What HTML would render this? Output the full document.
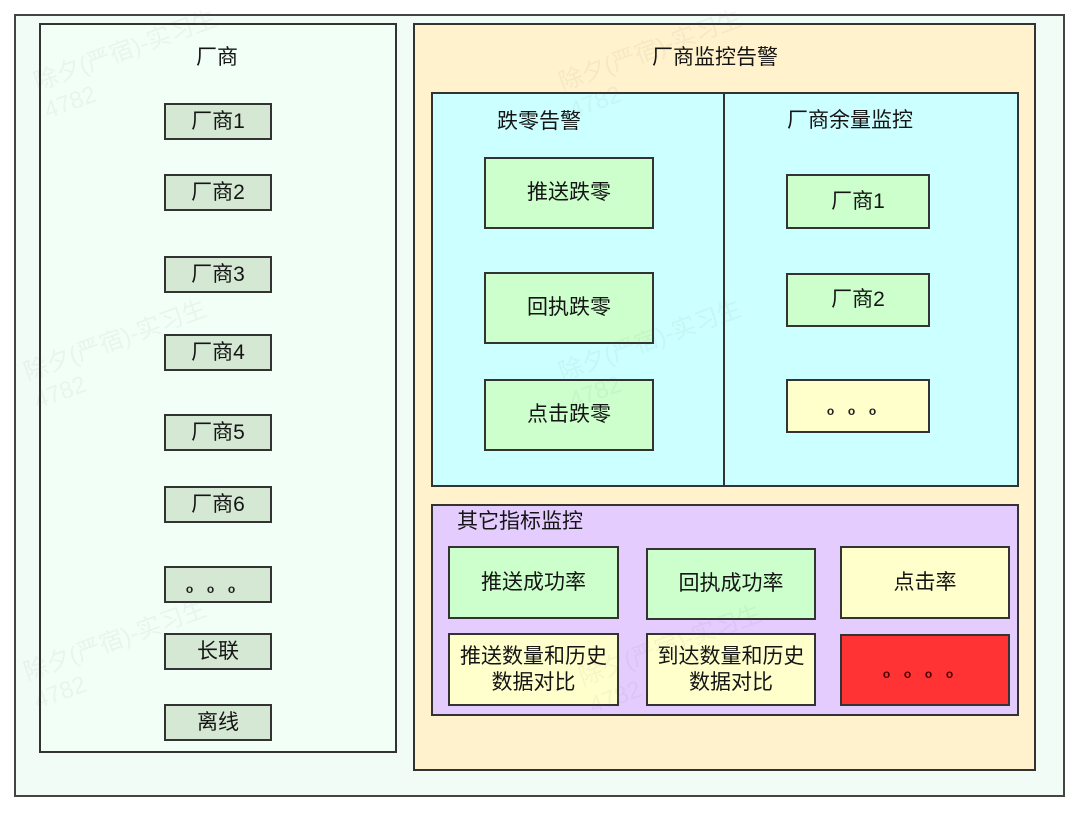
<!DOCTYPE html>
<html>
<head>
<meta charset="utf-8">
<style>
  html,body{margin:0;padding:0;}
  body{width:1080px;height:813px;background:#ffffff;position:relative;overflow:hidden;
    font-family:"Liberation Sans","Noto Sans CJK SC",sans-serif;color:#151515;}
  .a{position:absolute;box-sizing:border-box;}
  .b{position:absolute;box-sizing:border-box;border:2px solid #333;display:flex;align-items:center;justify-content:center;text-align:center;font-size:21px;line-height:26px;}
  .t{position:absolute;font-size:21px;line-height:26px;white-space:nowrap;}
  .lg{background:#d5e8d4;}
  .gr{background:#ccffcc;}
  .ye{background:#ffffcc;}
  .rd{background:#ff3333;}
  .wm{position:absolute;color:rgba(120,120,120,0.07);font-size:24px;line-height:30px;transform:rotate(-20deg);transform-origin:left top;white-space:nowrap;}
  .dots{position:absolute;height:12px;font-family:"Liberation Sans",sans-serif;font-size:12px;line-height:12px;font-weight:bold;white-space:nowrap;color:#222;}
  .dots span{display:inline-block;width:21px;text-align:center;}
</style>
</head>
<body>
  <!-- outer frame -->
  <div class="a" style="left:14px;top:14px;width:1051px;height:783px;border:2px solid #444;background:#f1fcf6;"></div>

  <!-- left panel -->
  <div class="a" style="left:39px;top:23px;width:358px;height:730px;border:2px solid #333;background:#f1fff6;"></div>
  <div class="t" style="left:196px;top:45px;">厂商</div>

  <div class="b lg" style="left:164px;top:103px;width:108px;height:37px;">厂商1</div>
  <div class="b lg" style="left:164px;top:174px;width:108px;height:37px;">厂商2</div>
  <div class="b lg" style="left:164px;top:256px;width:108px;height:37px;">厂商3</div>
  <div class="b lg" style="left:164px;top:334px;width:108px;height:37px;">厂商4</div>
  <div class="b lg" style="left:164px;top:414px;width:108px;height:37px;">厂商5</div>
  <div class="b lg" style="left:164px;top:486px;width:108px;height:37px;">厂商6</div>
  <div class="b lg" style="left:164px;top:566px;width:108px;height:37px;"></div>
  <div class="dots" style="left:179px;top:583px;"><span>o</span><span>o</span><span>o</span></div>
  <div class="b lg" style="left:164px;top:633px;width:108px;height:37px;">长联</div>
  <div class="b lg" style="left:164px;top:704px;width:108px;height:37px;">离线</div>

  <!-- right orange panel -->
  <div class="a" style="left:413px;top:23px;width:623px;height:748px;border:2px solid #333;background:#fff2cc;"></div>
  <div class="t" style="left:652px;top:45px;">厂商监控告警</div>

  <!-- cyan panel -->
  <div class="a" style="left:431px;top:92px;width:588px;height:395px;border:2px solid #333;background:#ccffff;"></div>
  <div class="a" style="left:723px;top:92px;width:2px;height:395px;background:#333;"></div>
  <div class="t" style="left:497px;top:109px;">跌零告警</div>
  <div class="t" style="left:787px;top:108px;">厂商余量监控</div>

  <div class="b gr" style="left:484px;top:157px;width:170px;height:72px;">推送跌零</div>
  <div class="b gr" style="left:484px;top:272px;width:170px;height:72px;">回执跌零</div>
  <div class="b gr" style="left:484px;top:379px;width:170px;height:72px;">点击跌零</div>

  <div class="b gr" style="left:786px;top:174px;width:144px;height:55px;">厂商1</div>
  <div class="b gr" style="left:786px;top:273px;width:144px;height:54px;">厂商2</div>
  <div class="b ye" style="left:786px;top:379px;width:144px;height:54px;"></div>
  <div class="dots" style="left:820px;top:405px;"><span>o</span><span>o</span><span>o</span></div>

  <!-- purple panel -->
  <div class="a" style="left:431px;top:504px;width:588px;height:212px;border:2px solid #333;background:#e5ccff;"></div>
  <div class="t" style="left:457px;top:509px;">其它指标监控</div>

  <div class="b gr" style="left:448px;top:546px;width:171px;height:73px;">推送成功率</div>
  <div class="b gr" style="left:646px;top:548px;width:170px;height:72px;">回执成功率</div>
  <div class="b ye" style="left:840px;top:546px;width:170px;height:73px;">点击率</div>

  <div class="b ye" style="left:448px;top:633px;width:171px;height:73px;">推送数量和历史<br>数据对比</div>
  <div class="b ye" style="left:646px;top:633px;width:170px;height:73px;">到达数量和历史<br>数据对比</div>
  <div class="b rd" style="left:840px;top:634px;width:170px;height:72px;"></div>
  <div class="dots" style="left:876px;top:668px;color:#4a0000;"><span>o</span><span>o</span><span>o</span><span>o</span></div>

  <!-- faint watermarks -->
  <div class="wm" style="left:30px;top:70px;">除夕(严宿)-实习生<br>4782</div>
  <div class="wm" style="left:20px;top:360px;">除夕(严宿)-实习生<br>4782</div>
  <div class="wm" style="left:20px;top:660px;">除夕(严宿)-实习生<br>4782</div>
  <div class="wm" style="left:555px;top:70px;">除夕(严宿)-实习生<br>4782</div>
  <div class="wm" style="left:555px;top:360px;">除夕(严宿)-实习生<br>4782</div>
  <div class="wm" style="left:575px;top:665px;">除夕(严宿)-实习生<br>4782</div>
</body>
</html>
